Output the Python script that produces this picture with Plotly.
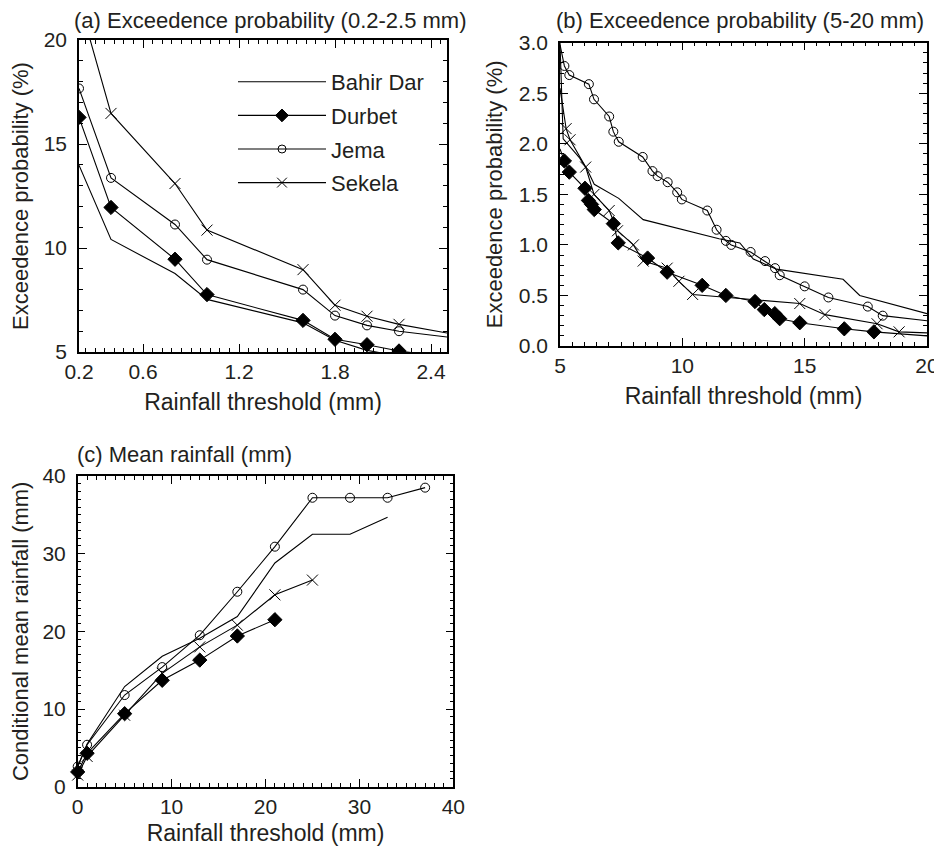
import plotly.graph_objects as go

# ---------------- Panel (a): exceedance probability 0.2-2.5 mm ----------------
a_x = [0.2, 0.4, 0.8, 1.0, 1.6, 1.8, 2.0, 2.2, 2.5]
a_bahir = [13.98, 10.41, 8.77, 7.53, 6.40, 5.56, 5.08, 4.80, 4.50]
a_durbet = [16.28, 11.95, 9.46, 7.76, 6.52, 5.61, 5.35, 5.05, 4.75]
a_jema = [17.67, 13.37, 11.13, 9.44, 8.00, 6.75, 6.28, 6.00, 5.72]
a_sekela = [21.90, 16.47, 13.10, 10.86, 8.96, 7.25, 6.72, 6.33, 5.91]
a_marked = [1, 1, 1, 1, 1, 1, 1, 1, 0]

# ---------------- Panel (b): exceedance probability 5-20 mm ----------------
b_bahir_x = [5.0, 5.13, 5.8, 6.1, 6.4, 7.4, 8.4, 11.5, 12.35, 12.9, 13.85, 16.57, 17.25, 20.0]
b_bahir_y = [3.0, 2.05, 1.86, 1.75, 1.60, 1.46, 1.25, 1.06, 1.02, 0.86, 0.76, 0.66, 0.50, 0.32]

b_jema_x = [5.0, 5.18, 5.38, 6.18, 6.39, 7.01, 7.18, 7.40, 8.38, 8.78, 8.99, 9.40, 9.79, 9.98,
            11.02, 11.40, 11.78, 12.00, 12.79, 13.38, 13.79, 13.98, 15.0, 15.97, 17.58, 18.19, 20.0]
b_jema_y = [2.98, 2.77, 2.68, 2.59, 2.44, 2.27, 2.12, 2.02, 1.87, 1.73, 1.68, 1.62, 1.52, 1.45,
            1.34, 1.15, 1.04, 1.00, 0.93, 0.84, 0.77, 0.70, 0.59, 0.48, 0.39, 0.30, 0.25]
b_jema_marked = [0] + [1] * 25 + [0]

b_durbet_x = [5.0, 5.18, 5.38, 6.02, 6.16, 6.29, 6.40, 7.18, 7.38, 8.58, 9.38, 10.81, 11.78,
              12.97, 13.35, 13.78, 13.98, 14.8, 16.62, 17.83, 20.0]
b_durbet_y = [1.95, 1.83, 1.72, 1.56, 1.44, 1.40, 1.35, 1.21, 1.02, 0.87, 0.73, 0.60, 0.50,
              0.44, 0.36, 0.32, 0.27, 0.23, 0.17, 0.14, 0.10]
b_durbet_marked = [0] + [1] * 19 + [0]

b_sekela_x = [5.0, 5.25, 5.41, 6.05, 6.39, 7.01, 7.35, 8.0, 8.40, 9.38, 9.86, 10.42, 14.8,
              15.83, 17.96, 18.86, 20.0]
b_sekela_y = [2.55, 2.15, 2.04, 1.77, 1.50, 1.34, 1.14, 1.00, 0.84, 0.77, 0.64, 0.51, 0.42,
              0.31, 0.22, 0.14, 0.13]
b_sekela_marked = [0] + [1] * 15 + [0]

# ---------------- Panel (c): conditional mean rainfall ----------------
c_jema_x = [0, 1, 5, 9, 13, 17, 21, 25, 29, 33, 37]
c_jema_y = [2.6, 5.4, 11.8, 15.4, 19.5, 25.1, 30.9, 37.2, 37.2, 37.2, 38.5]
c_bahir_x = [0, 1, 5, 9, 13, 17, 21, 25, 29, 33]
c_bahir_y = [2.6, 5.5, 12.9, 16.8, 19.1, 21.9, 28.8, 32.5, 32.5, 34.7]
c_sekela_x = [0, 1, 5, 9, 13, 17, 21, 25]
c_sekela_y = [1.5, 3.9, 9.2, 14.6, 18.0, 20.8, 24.7, 26.6]
c_durbet_x = [0, 1, 5, 9, 13, 17, 21]
c_durbet_y = [1.9, 4.3, 9.4, 13.7, 16.3, 19.4, 21.5]

a_ticks = [0.2, 0.6, 1.2, 1.8, 2.4]
a_ticktext = ["0.2", "0.6", "1.2", "1.8", "2.4"]
b_yticks = [0.0, 0.5, 1.0, 1.5, 2.0, 2.5, 3.0]
b_yticktext = ["0.0", "0.5", "1.0", "1.5", "2.0", "2.5", "3.0"]

INK = "#231f20"
FONT = "Liberation Sans, Arial, sans-serif"

styles = {
    "Bahir Dar": dict(mode="lines"),
    "Durbet": dict(mode="lines+markers", symbol="diamond", size=11),
    "Jema": dict(mode="lines+markers", symbol="circle-open", size=9),
    "Sekela": dict(mode="lines+markers", symbol="x-thin-open", size=11),
}


def make_trace(name, x, y, xa, ya, marked=None, showlegend=False, clip=True):
    st = styles[name]
    kw = dict(x=x, y=y, name=name, xaxis=xa, yaxis=ya, showlegend=showlegend,
              line=dict(color="black", width=1.1), cliponaxis=clip,
              legendgroup=name)
    if st["mode"] == "lines":
        kw["mode"] = "lines"
    else:
        base = st["size"]
        sizes = base if marked is None else [base * m for m in marked]
        kw["mode"] = "lines+markers"
        kw["marker"] = dict(symbol=st["symbol"], size=sizes, color="black", opacity=1,
                            line=dict(color="black", width=1))
    return go.Scatter(**kw)


fig = go.Figure()

# Panel a
fig.add_trace(make_trace("Bahir Dar", a_x, a_bahir, "x", "y", showlegend=True))
fig.add_trace(make_trace("Durbet", a_x, a_durbet, "x", "y", a_marked, showlegend=True))
fig.add_trace(make_trace("Jema", a_x, a_jema, "x", "y", a_marked, showlegend=True))
fig.add_trace(make_trace("Sekela", a_x, a_sekela, "x", "y", a_marked, showlegend=True))

# Panel b
fig.add_trace(make_trace("Bahir Dar", b_bahir_x, b_bahir_y, "x2", "y2"))
fig.add_trace(make_trace("Durbet", b_durbet_x, b_durbet_y, "x2", "y2", b_durbet_marked))
fig.add_trace(make_trace("Jema", b_jema_x, b_jema_y, "x2", "y2", b_jema_marked))
fig.add_trace(make_trace("Sekela", b_sekela_x, b_sekela_y, "x2", "y2", b_sekela_marked))

# Panel c
fig.add_trace(make_trace("Bahir Dar", c_bahir_x, c_bahir_y, "x3", "y3", clip=False))
fig.add_trace(make_trace("Durbet", c_durbet_x, c_durbet_y, "x3", "y3", clip=False))
fig.add_trace(make_trace("Jema", c_jema_x, c_jema_y, "x3", "y3", clip=False))
fig.add_trace(make_trace("Sekela", c_sekela_x, c_sekela_y, "x3", "y3", clip=False))

# the page body has an 8px margin; the figure starts there and runs to the window edge
OFF = 8
W, H = 942 - OFF, 852 - OFF


def px_x(v):
    return (v - OFF) / W


def px_y(v):
    return 1 - (v - OFF) / H


def axis(domain, rng, title, standoff, major, minor_dtick, tickvals=None, ticktext=None,
         anchor=None, minor_tick0=None, vertical=False):
    d = dict(
        domain=domain, range=rng, showgrid=False, zeroline=False, automargin=False,
        showline=True, linecolor="black", linewidth=1.5, mirror="ticks",
        ticks="inside", ticklen=8, tickwidth=1.2, tickcolor="black",
        ticklabelstandoff=6 if vertical else 0, ticklabeloverflow="allow",
        tickfont=dict(family=FONT, size=21, color=INK),
        title=dict(text=title, font=dict(family=FONT, size=22 if vertical else 23, color=INK),
                   standoff=standoff),
        minor=dict(ticks="inside", ticklen=4, tickwidth=1, tickcolor="black",
                   dtick=minor_dtick, showgrid=False),
        anchor=anchor,
    )
    if minor_tick0 is not None:
        d["minor"]["tick0"] = minor_tick0
    if tickvals is not None:
        d["tickmode"] = "array"
        d["tickvals"] = tickvals
        d["ticktext"] = ticktext
    else:
        d["dtick"] = major
        d["tick0"] = 0
    return d


fig.update_layout(
    width=W, height=H,
    margin=dict(l=0, r=0, t=0, b=0, autoexpand=False),
    paper_bgcolor="white", plot_bgcolor="white",
    font=dict(family=FONT, color=INK),
    xaxis=axis([px_x(79), px_x(447)], [0.2, 2.5], "Rainfall threshold (mm)", 12, None, 0.06,
               a_ticks, a_ticktext, anchor="y", minor_tick0=0),
    yaxis=axis([px_y(352), px_y(40)], [5, 20], "Exceedence probability (%)", 10, 5, 1,
               anchor="x", vertical=True),
    xaxis2=axis([px_x(560), px_x(927)], [5, 20], "Rainfall threshold (mm)", 12, 5, 0.5,
                anchor="y2"),
    yaxis2=axis([px_y(346), px_y(42.7)], [0, 3], "Exceedence probability (%)", 10, None, 0.1,
                b_yticks, b_yticktext, anchor="x2", vertical=True),
    xaxis3=axis([px_x(77.7), px_x(453.3)], [0, 40], "Rainfall threshold (mm)", 8, 10, 1,
                anchor="y3"),
    yaxis3=axis([px_y(786.7), px_y(476)], [0, 40], "Conditional mean rainfall (mm)", 10, 10, 1,
                anchor="x3", vertical=True),
    legend=dict(
        x=px_x(233), y=px_y(61), xanchor="left", yanchor="top",
        bgcolor="rgba(0,0,0,0)", borderwidth=0,
        font=dict(family=FONT, size=22, color=INK),
        tracegroupgap=2, itemwidth=88,
    ),
    annotations=[
        dict(text="(a) Exceedence probability (0.2-2.5 mm)", x=px_x(72), y=px_y(6),
             xref="paper", yref="paper", xanchor="left", yanchor="top", showarrow=False,
             font=dict(family=FONT, size=22, color=INK)),
        dict(text="(b) Exceedence probability (5-20 mm)", x=px_x(554), y=px_y(6),
             xref="paper", yref="paper", xanchor="left", yanchor="top", showarrow=False,
             font=dict(family=FONT, size=22, color=INK)),
        dict(text="(c) Mean rainfall (mm)", x=px_x(75), y=px_y(440),
             xref="paper", yref="paper", xanchor="left", yanchor="top", showarrow=False,
             font=dict(family=FONT, size=22, color=INK)),
    ],
)

fig.write_html("out.html")
